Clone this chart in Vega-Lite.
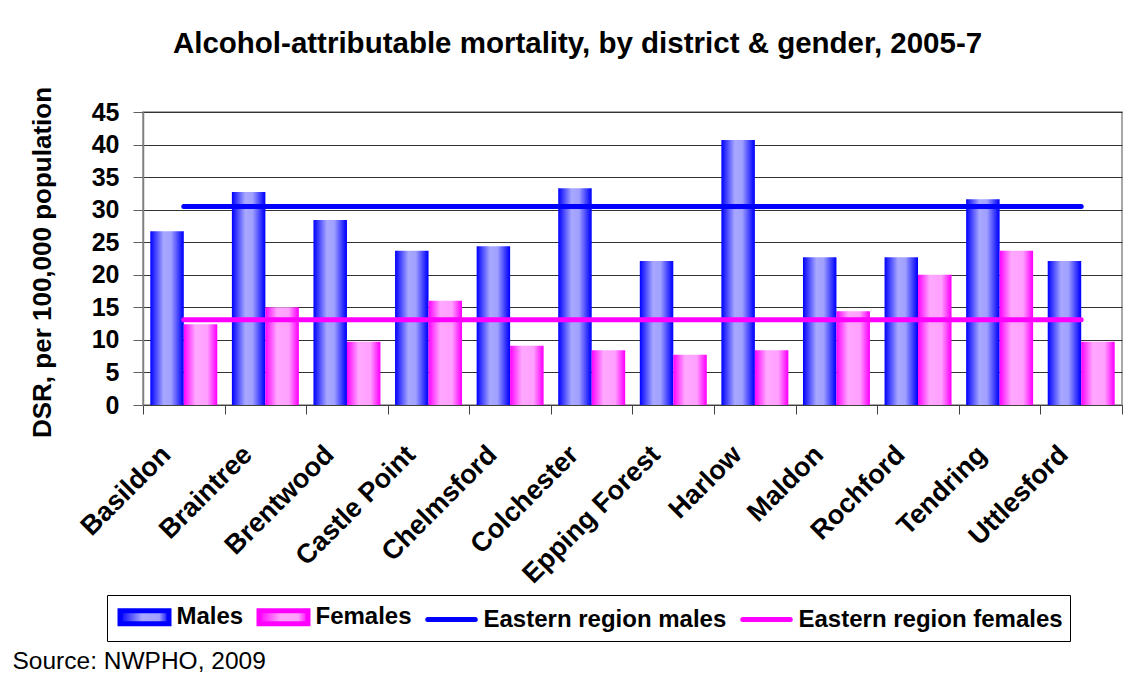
{
  "$schema": "https://vega.github.io/schema/vega-lite/v6.json",
  "width": 979,
  "height": 293,
  "autosize": {"type": "none"},
  "padding": {"left": 143, "top": 112, "right": 10, "bottom": 278},
  "background": "white",
  "config": {
    "view": {"stroke": "#8c8c8c", "strokeWidth": 1.5},
    "font": "Liberation Sans"
  },
  "title": {
    "text": "Alcohol-attributable mortality, by district & gender, 2005-7",
    "font": "Liberation Sans",
    "fontSize": 29.5,
    "fontWeight": "bold",
    "color": "black",
    "anchor": "middle",
    "dx": -55,
    "offset": 27
  },
  "data": {
    "values": [
      {"district": "Basildon", "series": "Males", "value": 26.7},
      {"district": "Basildon", "series": "Females", "value": 12.4},
      {"district": "Braintree", "series": "Males", "value": 32.7},
      {"district": "Braintree", "series": "Females", "value": 15.0},
      {"district": "Brentwood", "series": "Males", "value": 28.4},
      {"district": "Brentwood", "series": "Females", "value": 9.7},
      {"district": "Castle Point", "series": "Males", "value": 23.7},
      {"district": "Castle Point", "series": "Females", "value": 16.0},
      {"district": "Chelmsford", "series": "Males", "value": 24.4},
      {"district": "Chelmsford", "series": "Females", "value": 9.1},
      {"district": "Colchester", "series": "Males", "value": 33.3},
      {"district": "Colchester", "series": "Females", "value": 8.4},
      {"district": "Epping Forest", "series": "Males", "value": 22.1},
      {"district": "Epping Forest", "series": "Females", "value": 7.7},
      {"district": "Harlow", "series": "Males", "value": 40.7},
      {"district": "Harlow", "series": "Females", "value": 8.4},
      {"district": "Maldon", "series": "Males", "value": 22.7},
      {"district": "Maldon", "series": "Females", "value": 14.4},
      {"district": "Rochford", "series": "Males", "value": 22.7},
      {"district": "Rochford", "series": "Females", "value": 20.0},
      {"district": "Tendring", "series": "Males", "value": 31.6},
      {"district": "Tendring", "series": "Females", "value": 23.7},
      {"district": "Uttlesford", "series": "Males", "value": 22.1},
      {"district": "Uttlesford", "series": "Females", "value": 9.7},
      {"district": "Basildon", "series": "Eastern region males", "value": 30.5},
      {"district": "Braintree", "series": "Eastern region males", "value": 30.5},
      {"district": "Brentwood", "series": "Eastern region males", "value": 30.5},
      {"district": "Castle Point", "series": "Eastern region males", "value": 30.5},
      {"district": "Chelmsford", "series": "Eastern region males", "value": 30.5},
      {"district": "Colchester", "series": "Eastern region males", "value": 30.5},
      {"district": "Epping Forest", "series": "Eastern region males", "value": 30.5},
      {"district": "Harlow", "series": "Eastern region males", "value": 30.5},
      {"district": "Maldon", "series": "Eastern region males", "value": 30.5},
      {"district": "Rochford", "series": "Eastern region males", "value": 30.5},
      {"district": "Tendring", "series": "Eastern region males", "value": 30.5},
      {"district": "Uttlesford", "series": "Eastern region males", "value": 30.5},
      {"district": "Basildon", "series": "Eastern region females", "value": 13.1},
      {"district": "Braintree", "series": "Eastern region females", "value": 13.1},
      {"district": "Brentwood", "series": "Eastern region females", "value": 13.1},
      {"district": "Castle Point", "series": "Eastern region females", "value": 13.1},
      {"district": "Chelmsford", "series": "Eastern region females", "value": 13.1},
      {"district": "Colchester", "series": "Eastern region females", "value": 13.1},
      {"district": "Epping Forest", "series": "Eastern region females", "value": 13.1},
      {"district": "Harlow", "series": "Eastern region females", "value": 13.1},
      {"district": "Maldon", "series": "Eastern region females", "value": 13.1},
      {"district": "Rochford", "series": "Eastern region females", "value": 13.1},
      {"district": "Tendring", "series": "Eastern region females", "value": 13.1},
      {"district": "Uttlesford", "series": "Eastern region females", "value": 13.1}
    ]
  },
  "encoding": {
    "x": {
      "field": "district",
      "type": "nominal",
      "scale": {
        "domain": ["Basildon", "Braintree", "Brentwood", "Castle Point", "Chelmsford", "Colchester", "Epping Forest", "Harlow", "Maldon", "Rochford", "Tendring", "Uttlesford"],
        "paddingInner": 0,
        "paddingOuter": 0
      },
      "axis": {
        "title": "Source: NWPHO, 2009",
        "titleFont": "Liberation Sans",
        "titleFontSize": 24.5,
        "titleFontWeight": "normal",
        "titleColor": "black",
        "titleX": -131,
        "titleY": 263,
        "titleAlign": "left",
        "titleBaseline": "alphabetic",
        "labelAngle": -45,
        "labelAlign": "right",
        "labelBaseline": "top",
        "labelFont": "Liberation Sans",
        "labelFontSize": 27,
        "labelFontWeight": "bold",
        "labelColor": "black",
        "labelPadding": 27,
        "labelOffset": -27,
        "labelLimit": 400,
        "tickBand": "extent",
        "tickSize": 9,
        "tickColor": "#404040",
        "domainColor": "#404040",
        "grid": false
      }
    },
    "y": {
      "field": "value",
      "type": "quantitative",
      "scale": {"domain": [0, 45], "nice": false},
      "axis": {
        "title": "DSR, per 100,000 population",
        "titleFont": "Liberation Sans",
        "titleFontSize": 26,
        "titleFontWeight": "bold",
        "titleColor": "black",
        "titleAngle": -90,
        "titleX": -93,
        "titleY": 150,
        "titleAlign": "center",
        "titleBaseline": "alphabetic",
        "values": [0, 5, 10, 15, 20, 25, 30, 35, 40, 45],
        "labelFont": "Liberation Sans",
        "labelFontSize": 25,
        "labelFontWeight": "bold",
        "labelColor": "black",
        "labelPadding": 14,
        "tickSize": 10,
        "tickColor": "#606060",
        "domainColor": "#808080",
        "domainWidth": 1.5,
        "grid": true,
        "gridColor": "#333333",
        "gridWidth": 1
      }
    }
  },
  "layer": [
    {
      "transform": [{"filter": {"field": "series", "equal": "Males"}}],
      "mark": {
        "type": "bar",
        "fill": {"gradient": "linear", "x1": 0, "y1": 0, "x2": 1, "y2": 0, "stops": [
          {"offset": 0, "color": "#0000FF"},
          {"offset": 0.4, "color": "#A8A8FF"},
          {"offset": 0.62, "color": "#A0A0FF"},
          {"offset": 0.94, "color": "#1414FF"},
          {"offset": 1, "color": "#0000FF"}
        ]}
      },
      "encoding": {
        "xOffset": {
          "field": "series",
          "type": "nominal",
          "scale": {"domain": ["Males", "Females"], "paddingInner": 0, "paddingOuter": 0.218}
        }
      }
    },
    {
      "transform": [{"filter": {"field": "series", "equal": "Females"}}],
      "mark": {
        "type": "bar",
        "fill": {"gradient": "linear", "x1": 0, "y1": 0, "x2": 1, "y2": 0, "stops": [
          {"offset": 0, "color": "#FF00FF"},
          {"offset": 0.35, "color": "#FFA8FF"},
          {"offset": 0.7, "color": "#FFA0FF"},
          {"offset": 0.95, "color": "#FF14FF"},
          {"offset": 1, "color": "#FF00FF"}
        ]}
      },
      "encoding": {
        "xOffset": {
          "field": "series",
          "type": "nominal",
          "scale": {"domain": ["Males", "Females"], "paddingInner": 0, "paddingOuter": 0.218}
        }
      }
    },
    {
      "transform": [{"filter": {"field": "series", "oneOf": ["Eastern region males", "Eastern region females"]}}],
      "mark": {"type": "line", "strokeWidth": 5, "strokeCap": "round"},
      "encoding": {
        "color": {
          "field": "series",
          "type": "nominal",
          "scale": {
            "domain": ["Males", "Females", "Eastern region males", "Eastern region females"],
            "range": ["#0000FF", "#FF00FF", "#0000FF", "#FF00FF"]
          },
          "legend": {
            "orient": "none",
            "direction": "horizontal",
            "legendX": -36,
            "legendY": 483,
            "title": null,
            "strokeColor": "black",
            "fillColor": "white",
            "padding": 7,
            "labelFont": "Liberation Sans",
            "labelFontSize": 24,
            "labelFontWeight": "bold",
            "labelColor": "black",
            "labelLimit": 500,
            "symbolSize": 625,
            "symbolStrokeWidth": 5,
            "symbolOffset": 15.5,
            "labelOffset": 17,
            "columnPadding": 5,
            "encode": {
              "symbols": {
                "update": {
                  "shape": {"signal": "datum.value == 'Males' || datum.value == 'Females' ? 'M-1.96,-0.52H1.96V0.52H-1.96Z' : 'M-1.9,0H1.9'"},
                  "size": {"value": 625},
                  "strokeWidth": {"value": 5},
                  "fill": {"signal": "datum.value == 'Males' ? {gradient: 'linear', x1: 0, y1: 0, x2: 1, y2: 0, stops: [{offset: 0, color: '#0000FF'}, {offset: 0.45, color: '#A8A8FF'}, {offset: 0.8, color: '#A0A0FF'}, {offset: 1, color: '#0000FF'}]} : datum.value == 'Females' ? {gradient: 'linear', x1: 0, y1: 0, x2: 1, y2: 0, stops: [{offset: 0, color: '#FF00FF'}, {offset: 0.45, color: '#FFA8FF'}, {offset: 0.8, color: '#FFA0FF'}, {offset: 1, color: '#FF00FF'}]} : 'transparent'"},
                  "stroke": {"signal": "datum.value == 'Males' || datum.value == 'Females' ? 'transparent' : scale('color', datum.value)"},
                  "strokeCap": {"value": "round"},
                  "opacity": {"value": 1}
                }
              }
            }
          }
        }
      }
    }
  ]
}
